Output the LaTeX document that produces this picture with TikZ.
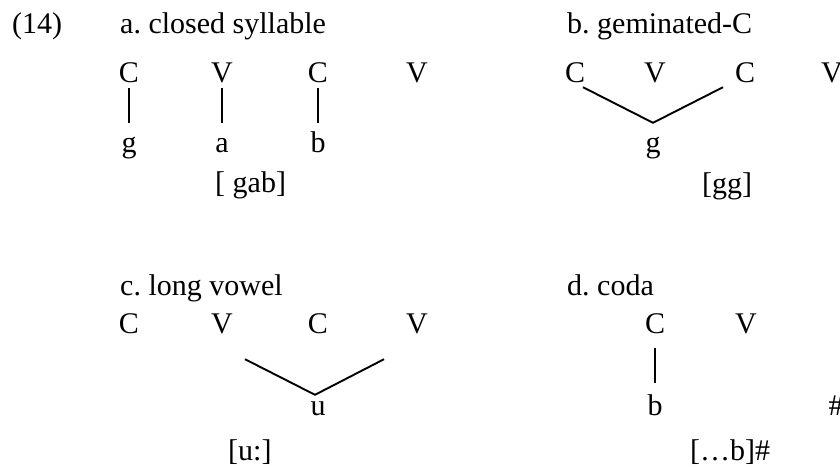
\documentclass[tikz,border=0pt]{standalone}
\usepackage{fontspec}
\setmainfont{Liberation Serif}
\usetikzlibrary{calc}
\frenchspacing

\begin{document}
\begin{tikzpicture}[x=1pt, y=-1pt,
  seg/.style={inner sep=0pt, text height=20pt, text depth=6pt, anchor=base, font=\fontsize{30}{36}\selectfont},
  txt/.style={inner sep=0pt, anchor=base west, font=\fontsize{30}{36}\selectfont},
  assoc/.style={line width=1.9pt}]
  \useasboundingbox (0,0) rectangle (840,466);

  \node[txt] (num) at (12,33) {(14)};

  % a. closed syllable
  \node[txt] (ta) at (120,33) {a. closed syllable};
  \node[seg] (aC1) at (129,82) {C};
  \node[seg] (aV1) at (222,82) {V};
  \node[seg] (aC2) at (318,82) {C};
  \node[seg] (aV2) at (417,82) {V};
  \node[seg] (ag) at (129,152) {g};
  \node[seg] (aa) at (222,152) {a};
  \node[seg] (ab) at (318,152) {b};
  \node[txt] (aout) at (215,192) {[ gab]};
  \draw[assoc, shorten >=9pt] (aC1.south) -- (ag.north);
  \draw[assoc, shorten >=9pt] (aV1.south) -- (aa.north);
  \draw[assoc, shorten >=9pt] (aC2.south) -- (ab.north);

  % b. geminated-C
  \node[txt] (tb) at (567,33) {b. geminated-C};
  \node[seg] (bC1) at (575,82) {C};
  \node[seg] (bV1) at (655,82) {V};
  \node[seg] (bC2) at (745,82) {C};
  \node[seg] (bV2) at (832,82) {V};
  \node[seg] (bg) at (653,152) {g};
  \coordinate (bv) at ($(bg.north)+(0,-9)$);
  \node[txt] (bout) at (702,193) {[gg]};
  \draw[assoc] ($(bC1.south)+(8,-1)$) -- (bv) -- ($(bC2.south)+(-22,-1)$);

  % c. long vowel
  \node[txt] (tc) at (120,295) {c. long vowel};
  \node[seg] (cC1) at (129,333) {C};
  \node[seg] (cV1) at (222,333) {V};
  \node[seg] (cC2) at (318,333) {C};
  \node[seg] (cV2) at (417,333) {V};
  \node[seg] (cu) at (318,415) {u};
  \node[txt] (cout) at (228,460) {[u:]};
  \draw[assoc] ($(cV1.south)+(23,20)$) -- ($(cu.north)+(-3,0)$) -- ($(cV2.south)+(-33,20)$);

  % d. coda
  \node[txt] (td) at (567,295) {d. coda};
  \node[seg] (dC) at (655,333) {C};
  \node[seg] (dV) at (746,333) {V};
  \node[seg] (db) at (655,415) {b};
  \node[seg] (dh) at (836,415) {\#};
  \node[txt] (dout) at (690,460) {[…b]\#};
  \draw[assoc, shorten <=9pt, shorten >=12pt] (dC.south) -- (db.north);
\end{tikzpicture}
\end{document}
